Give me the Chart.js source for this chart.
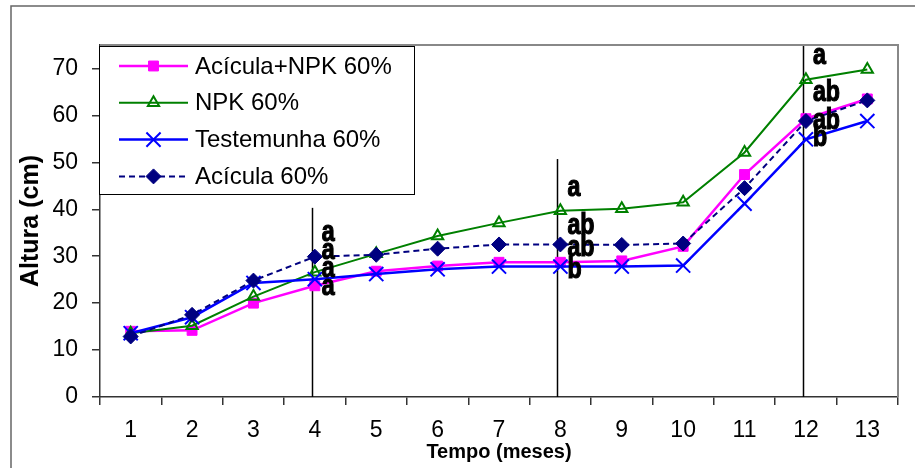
<!DOCTYPE html>
<html>
<head>
<meta charset="utf-8">
<script src="https://cdn.jsdelivr.net/npm/chart.js@4.4.0/dist/chart.umd.min.js"></script>
<style>
  html, body { margin: 0; padding: 0; background: #fff; }
  #wrap { width: 915px; height: 468px; }
</style>
</head>
<body>
<div id="wrap"><canvas id="grafico" width="915" height="468"></canvas></div>
<script>
'use strict';

// Dados (altura média em cm por mês)
var meses = ['1', '2', '3', '4', '5', '6', '7', '8', '9', '10', '11', '12', '13'];
var aciculaNpk = [14.0, 14.2, 20.0, 23.7, 26.8, 27.9, 28.7, 28.7, 29.0, 32.1, 47.4, 59.3, 63.5];
var npk = [13.6, 15.2, 21.4, 26.6, 30.5, 34.3, 37.1, 39.7, 40.1, 41.5, 52.1, 67.6, 69.8];
var testemunha = [13.6, 17.0, 24.3, 25.1, 26.2, 27.2, 27.8, 27.8, 27.8, 28.0, 41.2, 54.9, 58.8];
var acicula = [12.9, 17.5, 24.8, 29.9, 30.3, 31.6, 32.5, 32.5, 32.4, 32.7, 44.5, 58.8, 63.2];

// Épocas de avaliação (linhas verticais) e letras do teste de médias
var epocas = ['4', '8', '12'];
var epocasTopo = [40.3, 50.7, 75];
var letras = [
    ['a', 'a', 'a', 'a'],
    ['a', 'ab', 'ab', 'b'],
    ['a', 'ab', 'ab', 'b']
];

var yTicks = [0, 10, 20, 30, 40, 50, 60, 70];

var fonte = '"Liberation Sans", Arial, sans-serif';

// altura (em cm do eixo) onde cada letra fica escrita
var letrasNivel = [
    [34.5, 30.7, 26.8, 23.0],
    [44.1, 36.0, 31.3, 26.6],
    [72.2, 64.4, 58.4, 54.8]
];

// ------------------------------------------------------- //
// Moldura, linhas verticais, letras e legenda
// ------------------------------------------------------ //
var extras = {
    id: 'extras',
    beforeDraw: function (chart) {
        var ctx = chart.ctx;
        ctx.save();
        ctx.fillStyle = '#fff';
        ctx.fillRect(0, 0, chart.width, chart.height);
        ctx.strokeStyle = '#666';
        ctx.lineWidth = 1.5;
        ctx.beginPath();
        ctx.moveTo(11, chart.height + 2);
        ctx.lineTo(11, 6);
        ctx.lineTo(chart.width + 2, 6);
        ctx.stroke();
        ctx.restore();
    },
    beforeDatasetsDraw: function (chart) {
        var ctx = chart.ctx, xs = chart.scales.x, ys = chart.scales.y;
        ctx.save();
        ctx.strokeStyle = '#000';
        ctx.lineWidth = 1.5;
        epocas.forEach(function (m, i) {
            var px = Math.round(xs.getPixelForValue(meses.indexOf(m))) - 2.5;
            ctx.beginPath();
            ctx.moveTo(px, ys.getPixelForValue(0));
            ctx.lineTo(px, ys.getPixelForValue(epocasTopo[i]));
            ctx.stroke();
        });
        ctx.restore();
    },
    afterDatasetsDraw: function (chart) {
        var ctx = chart.ctx, xs = chart.scales.x, ys = chart.scales.y;
        ctx.save();
        ctx.fillStyle = '#000';
        ctx.strokeStyle = '#000';
        ctx.lineWidth = 1.2;
        ctx.font = 'bold 29px "Liberation Sans", sans-serif';
        ctx.textAlign = 'left';
        ctx.textBaseline = 'middle';
        epocas.forEach(function (m, i) {
            var px = xs.getPixelForValue(meses.indexOf(m)) + 7;
            letras[i].forEach(function (l, j) {
                // letras altas e pesadas
                ctx.save();
                ctx.translate(px, ys.getPixelForValue(letrasNivel[i][j]) - 2);
                ctx.scale(0.8, 1);
                ctx.fillText(l, 0, 0);
                ctx.strokeText(l, 0, 0);
                ctx.restore();
            });
        });
        ctx.restore();
    },
    afterDraw: function (chart) {
        var ctx = chart.ctx, a = chart.chartArea;
        ctx.save();
        // borda superior e direita da área do gráfico
        ctx.strokeStyle = '#888';
        ctx.lineWidth = 2;
        ctx.beginPath();
        ctx.moveTo(a.left, a.top);
        ctx.lineTo(a.right, a.top);
        ctx.lineTo(a.right, a.bottom);
        ctx.stroke();

        // legenda
        var bx = 99, by = 46, bw = 315, bh = 148;
        ctx.fillStyle = '#fff';
        ctx.fillRect(bx, by, bw, bh);
        ctx.strokeStyle = '#000';
        ctx.lineWidth = 1;
        ctx.strokeRect(bx + 0.5, by + 0.5, bw, bh);

        ctx.font = '24px ' + fonte;
        ctx.textBaseline = 'middle';
        chart.data.datasets.forEach(function (ds, i) {
            var ry = 66 + i * 36.8;
            ctx.strokeStyle = ds.borderColor;
            ctx.lineWidth = ds.borderWidth;
            ctx.setLineDash(ds.borderDash || []);
            ctx.beginPath();
            ctx.moveTo(119, ry);
            ctx.lineTo(188, ry);
            ctx.stroke();
            ctx.setLineDash([]);
            ctx.fillStyle = ds.backgroundColor;
            ctx.lineWidth = ds.pointBorderWidth;
            Chart.helpers.drawPoint(ctx, {
                pointStyle: ds.pointStyle,
                radius: ds.pointRadius,
                borderWidth: ds.pointBorderWidth,
                rotation: 0
            }, 153.5, ry);
            ctx.fillStyle = '#000';
            ctx.fillText(ds.label, 195, ry + 1);
        });
        ctx.restore();
    }
};

var GRAFICO = document.getElementById('grafico');
var meuGrafico = new Chart(GRAFICO, {
    type: 'line',
    data: {
        labels: meses,
        datasets: [
            {
                label: 'Acícula+NPK 60%',
                data: aciculaNpk,
                borderColor: '#ff00ff',
                backgroundColor: '#ff00ff',
                borderWidth: 2.5,
                pointStyle: 'rect',
                pointRadius: 7,
                pointBorderWidth: 1,
                order: 3
            },
            {
                label: 'NPK 60%',
                data: npk,
                borderColor: '#008000',
                backgroundColor: 'rgba(255,255,255,0)',
                borderWidth: 2,
                pointStyle: 'triangle',
                pointRadius: 6.5,
                pointBorderWidth: 2,
                order: 2
            },
            {
                label: 'Testemunha 60%',
                data: testemunha,
                borderColor: '#0000ff',
                backgroundColor: '#0000ff',
                borderWidth: 2.5,
                pointStyle: 'crossRot',
                pointRadius: 10,
                pointBorderWidth: 2,
                order: 1
            },
            {
                label: 'Acícula 60%',
                data: acicula,
                borderColor: '#000080',
                backgroundColor: '#000080',
                borderWidth: 2,
                borderDash: [6, 4],
                pointStyle: 'rectRot',
                pointRadius: 7.5,
                pointBorderWidth: 1,
                order: 0
            }
        ]
    },
    options: {
        responsive: false,
        animation: false,
        layout: { padding: { left: 0, right: 17, top: 45, bottom: 0 } },
        elements: { line: { tension: 0 } },
        plugins: {
            legend: { display: false },
            tooltip: { enabled: false }
        },
        scales: {
            x: {
                offset: true,
                grid: { offset: true, drawOnChartArea: false, tickLength: 8, color: '#333', lineWidth: 1.5 },
                border: { color: '#333', width: 1.5 },
                ticks: { color: '#000', font: { family: fonte, size: 23 }, padding: 12, maxRotation: 0, autoSkip: false },
                title: {
                    display: true,
                    text: 'Tempo (meses)',
                    color: '#000',
                    font: { family: fonte, size: 20, weight: 'bold' },
                    padding: { top: 0, bottom: 4 }
                },
                afterFit: function (s) { s.height = 71; }
            },
            y: {
                min: 0,
                max: 75,
                grid: { drawOnChartArea: false, tickLength: 8, color: '#333', lineWidth: 1.5 },
                border: { color: '#333', width: 1.5 },
                ticks: { color: '#000', font: { family: fonte, size: 23 }, padding: 14, stepSize: 10 },
                afterBuildTicks: function (s) {
                    s.ticks = yTicks.map(function (v) { return { value: v }; });
                },
                title: {
                    display: true,
                    text: 'Altura (cm)',
                    color: '#000',
                    font: { family: fonte, size: 25, weight: 'bold' },
                    padding: { top: 16, bottom: 0 }
                },
                afterFit: function (s) { s.width = 100; }
            }
        }
    },
    plugins: [extras]
});
</script>
</body>
</html>
